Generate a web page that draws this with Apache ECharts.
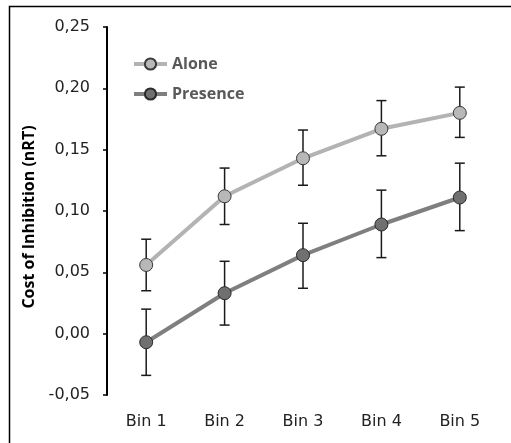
<!DOCTYPE html>
<html>
<head>
<meta charset="utf-8">
<script src="https://cdn.jsdelivr.net/npm/echarts@6/dist/echarts.min.js"></script>
<style>html,body{margin:0;padding:0;background:#fff}#c{width:511px;height:443px}</style>
</head>
<body>
<div id="c"></div>
<script>
var categories = ['Bin 1', 'Bin 2', 'Bin 3', 'Bin 4', 'Bin 5'];
var alone = [0.056, 0.112, 0.143, 0.167, 0.180];
var aloneLow = [0.035, 0.089, 0.121, 0.145, 0.160];
var aloneHigh = [0.077, 0.135, 0.166, 0.190, 0.201];
var presence = [-0.007, 0.033, 0.064, 0.089, 0.111];
var presenceLow = [-0.034, 0.007, 0.037, 0.062, 0.084];
var presenceHigh = [0.020, 0.059, 0.090, 0.117, 0.139];

function errData(lo, hi) {
  return categories.map(function (c, i) { return [i, lo[i], hi[i]]; });
}
function renderErr(params, api) {
  var x = api.value(0);
  var lo = api.coord([x, api.value(1)]);
  var hi = api.coord([x, api.value(2)]);
  var hw = 5;
  var st = { stroke: '#1a1a1a', lineWidth: 1.5 };
  return {
    type: 'group',
    children: [
      { type: 'line', shape: { x1: hi[0], y1: hi[1], x2: lo[0], y2: lo[1] }, style: st },
      { type: 'line', shape: { x1: hi[0] - hw, y1: hi[1], x2: hi[0] + hw, y2: hi[1] }, style: st },
      { type: 'line', shape: { x1: lo[0] - hw, y1: lo[1], x2: lo[0] + hw, y2: lo[1] }, style: st }
    ]
  };
}

var chart = echarts.init(document.getElementById('c'), null, { renderer: 'canvas' });
chart.setOption({
  animation: false,
  backgroundColor: '#fff',
  graphic: [{
    type: 'rect', left: 7, top: 4, shape: { width: 520, height: 460 },
    style: { fill: 'none', stroke: '#000', lineWidth: 1.5 }, z: -1
  }],
  grid: { left: 107, right: 12, top: 27, bottom: 48 },
  legend: {
    orient: 'vertical', left: 127, top: 51, itemWidth: 33, itemHeight: 14, itemGap: 14,
    data: ['Alone', 'Presence'],
    lineStyle: { width: 4 },
    textStyle: { fontFamily: 'Open Sans', fontWeight: 'bold', fontSize: 16, lineHeight: 16, color: '#595959' }
  },
  xAxis: {
    type: 'category', data: categories, boundaryGap: true,
    axisLine: { show: false }, axisTick: { show: false },
    axisLabel: { fontFamily: 'DejaVu Sans', fontSize: 16, color: '#222', margin: 19 }
  },
  yAxis: {
    type: 'value', min: -0.05, max: 0.25, interval: 0.05,
    name: 'Cost of Inhibition (nRT)', nameLocation: 'middle', nameGap: 68,
    nameTextStyle: { fontFamily: 'Open Sans', fontWeight: 'bold', fontSize: 16, color: '#000', padding: [0, 0, 0, -12] },
    axisLine: { show: true, lineStyle: { color: '#000', width: 2 } },
    axisTick: { show: true, length: 4, lineStyle: { color: '#000', width: 1.5 } },
    splitLine: { show: false },
    axisLabel: {
      fontFamily: 'DejaVu Sans', fontSize: 16, color: '#222', margin: 17,
      formatter: function (v) { return (Math.round(v * 100) / 100).toFixed(2).replace('.', ','); }
    }
  },
  series: [
    { type: 'custom', name: 'errA', data: errData(aloneLow, aloneHigh), renderItem: renderErr, z: 1, silent: true },
    { type: 'custom', name: 'errP', data: errData(presenceLow, presenceHigh), renderItem: renderErr, z: 1, silent: true },
    {
      name: 'Alone', type: 'line', data: alone, z: 3,
      symbol: 'circle', symbolSize: 13,
      lineStyle: { color: '#b3b3b3', width: 4 },
      itemStyle: { color: '#b8b8b8', borderColor: '#3a3a3a', borderWidth: 1 }
    },
    {
      name: 'Presence', type: 'line', data: presence, z: 3,
      symbol: 'circle', symbolSize: 13,
      lineStyle: { color: '#7f7f7f', width: 4 },
      itemStyle: { color: '#707070', borderColor: '#2a2a2a', borderWidth: 1 }
    }
  ]
});
</script>
</body>
</html>
